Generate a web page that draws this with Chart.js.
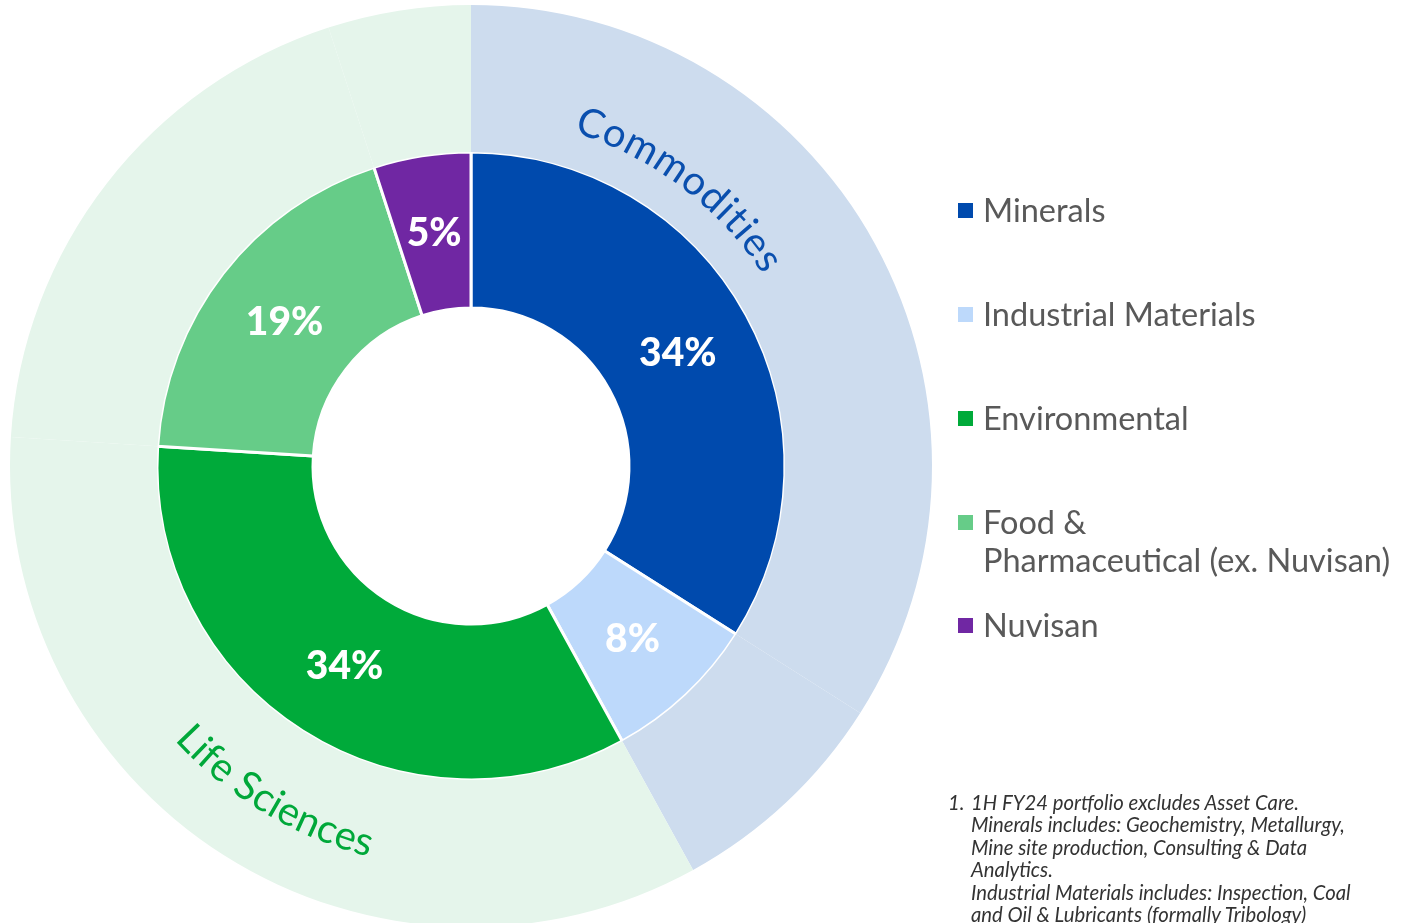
<!DOCTYPE html>
<html>
<head>
<meta charset="utf-8">
<script src="https://cdn.jsdelivr.net/npm/chart.js@4"></script>
<style>
  html, body { margin: 0; padding: 0; background: #fff; overflow: hidden; width: 1406px; height: 923px; }
  #wrap { position: absolute; left: 0; top: 0; width: 1406px; height: 932px; }
  #legend { position: absolute; left: 0; top: 0; }
  .item { position: absolute; left: 958px; font-family: Lato, "Noto Sans", sans-serif; font-size: 32.5px; color: #595959; line-height: 38px; white-space: nowrap; }
  .sw { position: absolute; left: 0; top: 12px; width: 15px; height: 15px; }
  .txt { position: absolute; left: 25px; top: 0; }
  #note { position: absolute; left: 948px; top: 791px; font-family: Lato, "Noto Sans", sans-serif; font-style: italic; font-size: 20.3px; line-height: 22.4px; color: #333; white-space: nowrap; }
  #note .num { position: absolute; left: 0; top: 0; }
  #note .body { position: absolute; left: 23px; top: 0; }
</style>
</head>
<body>
<div id="wrap"><canvas id="c"></canvas></div>
<div id="legend"></div>
<div id="note"><span class="num">1.</span><span class="body">1H FY24 portfolio excludes Asset Care.<br>Minerals includes: Geochemistry, Metallurgy,<br>Mine site production, Consulting &amp; Data<br>Analytics.<br>Industrial Materials includes: Inspection, Coal<br>and Oil &amp; Lubricants (formally Tribology)</span></div>
<script>
// ---- data ----
const categories = ["Minerals", "Industrial Materials", "Environmental", "Food & Pharmaceutical (ex. Nuvisan)", "Nuvisan"];
const legendLines = [["Minerals"], ["Industrial Materials"], ["Environmental"], ["Food &", "Pharmaceutical (ex. Nuvisan)"], ["Nuvisan"]];
const shares = [34, 8, 34, 19, 5];
const shareLabels = ["34%", "8%", "34%", "19%", "5%"];
const segmentColors = ["#004aad", "#bdd9fb", "#00aa3a", "#66cc88", "#7027a3"];
const groups = ["Commodities", "Life Sciences"];
const segmentGroup = [0, 0, 1, 1, 1];
const groupColors = ["#cddcee", "#e5f5eb"];
const groupTextColors = ["#0a4fae", "#00a83a"];
const legendTops = [191, 295, 399, 503, 606];

// ---- legend (HTML text) ----
const leg = document.getElementById('legend');
categories.forEach((cat, i) => {
  const d = document.createElement('div');
  d.className = 'item';
  d.style.top = legendTops[i] + 'px';
  d.innerHTML = '<span class="sw" style="background:' + segmentColors[i] + '"></span><span class="txt">' +
    legendLines[i].map(s => s.replace(/&/g, '&amp;')).join('<br>') + '</span>';
  leg.appendChild(d);
});

// ---- plugins ----
const pctLabels = {
  id: 'pctLabels',
  afterDatasetsDraw(chart) {
    const meta = chart.getDatasetMeta(1);
    const ctx = chart.ctx;
    ctx.save();
    ctx.fillStyle = '#ffffff';
    ctx.font = '900 39px Lato, "Noto Sans", sans-serif';
    ctx.textAlign = 'center';
    ctx.textBaseline = 'middle';
    meta.data.forEach((arc, i) => {
      const p = arc.getCenterPoint();
      ctx.fillText(shareLabels[i], p.x, p.y + 1);
    });
    ctx.restore();
  }
};

function drawArcText(ctx, cx, cy, text, r, thStartDeg, thEndDeg, outward) {
  const chars = Array.from(text);
  const w = chars.map(ch => ctx.measureText(ch).width);
  const n = chars.length;
  let acc = 0; const nat = [];
  for (let i = 0; i < n; i++) { nat.push(acc + w[i] / 2); acc += w[i]; }
  const target = Math.abs(thEndDeg - thStartDeg) * Math.PI / 180 * r;
  const ls = (target - (nat[n - 1] - nat[0])) / (n - 1);
  const dir = outward ? 1 : -1;
  for (let i = 0; i < n; i++) {
    const s = nat[i] - nat[0] + i * ls;
    const th = thStartDeg * Math.PI / 180 + dir * s / r;
    const x = cx + r * Math.sin(th);
    const y = cy - r * Math.cos(th);
    ctx.save();
    ctx.translate(x, y);
    ctx.rotate(outward ? th : th - Math.PI);
    ctx.fillText(chars[i], 0, 0);
    ctx.restore();
  }
}

const groupText = {
  id: 'groupText',
  afterDatasetsDraw(chart) {
    const arc = chart.getDatasetMeta(0).data[0];
    const cx = arc.x, cy = arc.y;
    const ctx = chart.ctx;
    ctx.save();
    ctx.font = '400 40px Lato, "Noto Sans", sans-serif';
    ctx.textAlign = 'center';
    ctx.textBaseline = 'middle';
    ctx.fillStyle = groupTextColors[0];
    drawArcText(ctx, cx, cy, groups[0], 362, 19.3, 55.3, true);
    ctx.fillStyle = groupTextColors[1];
    drawArcText(ctx, cx, cy, groups[1], 391, 225.8, 195.9, false);
    ctx.restore();
  }
};

new Chart(document.getElementById('c'), {
  type: 'doughnut',
  data: {
    labels: categories,
    datasets: [
      {
        data: shares,
        backgroundColor: segmentGroup.map(g => groupColors[g]),
        borderWidth: 0,
        hoverBorderWidth: 0,
        hoverOffset: 0,
        weight: 147,
        clip: false
      },
      {
        data: shares,
        backgroundColor: segmentColors,
        borderColor: '#ffffff',
        borderWidth: 3,
        hoverBorderWidth: 3,
        hoverOffset: 0,
        weight: 156,
        clip: false
      }
    ]
  },
  options: {
    responsive: true,
    maintainAspectRatio: false,
    animation: false,
    radius: 461,
    cutout: '34.27%',
    layout: { padding: { left: 10, right: 474, top: 5, bottom: 5 } },
    plugins: { legend: { display: false }, tooltip: { enabled: false } },
    events: []
  },
  plugins: [pctLabels, groupText]
});
</script>
</body>
</html>
